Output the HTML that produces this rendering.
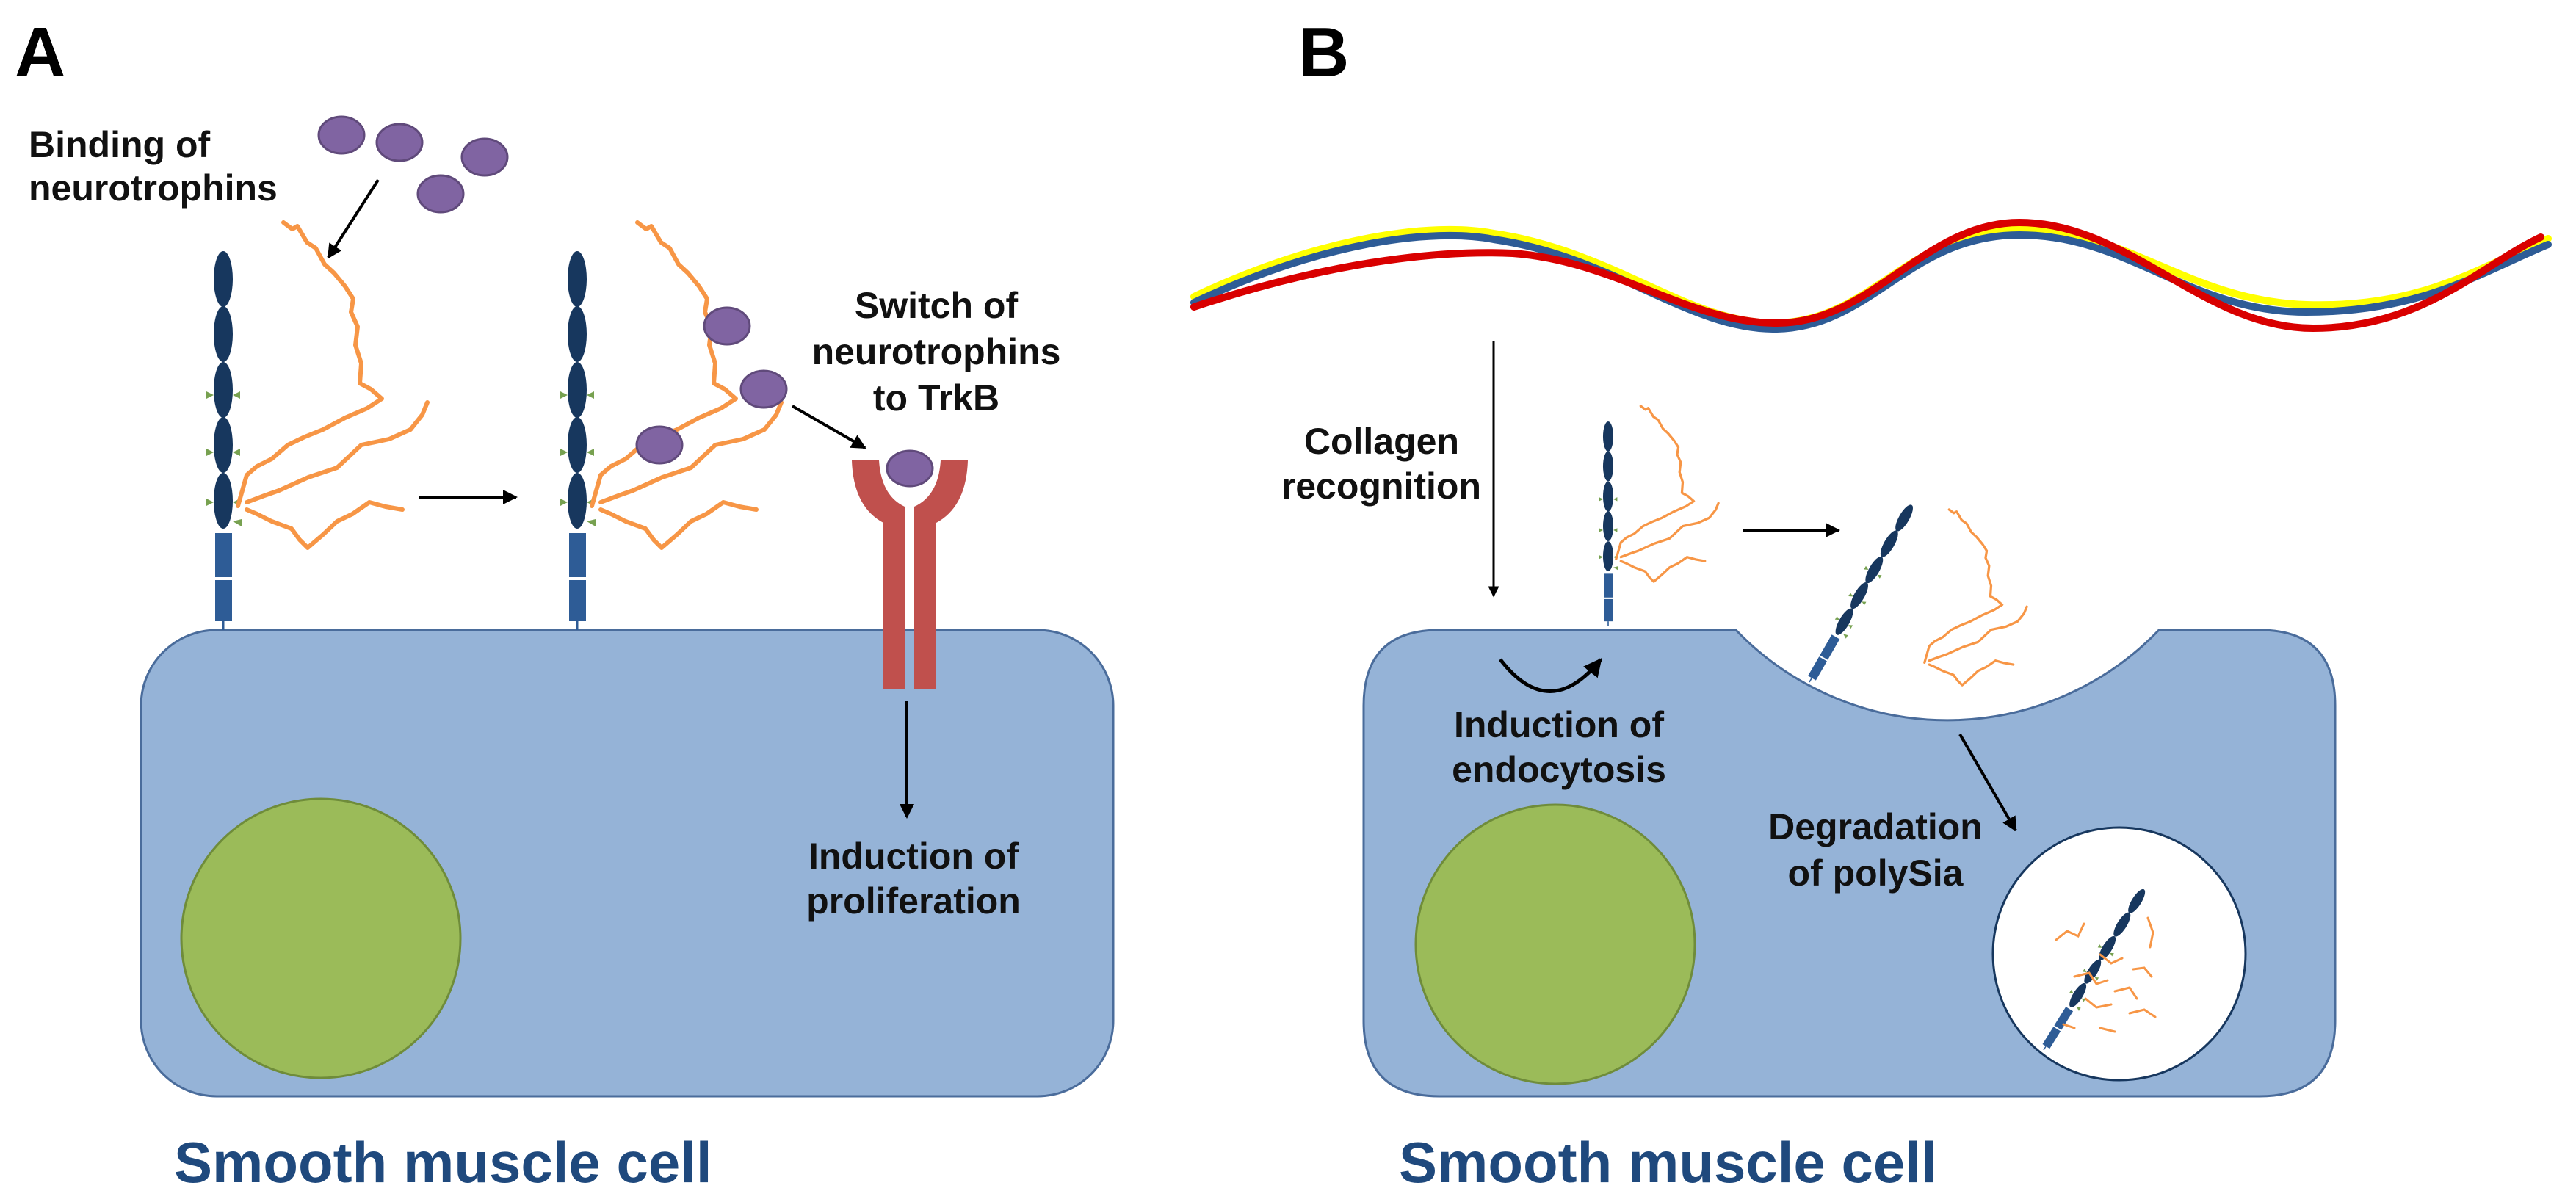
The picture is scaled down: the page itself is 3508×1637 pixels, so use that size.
<!DOCTYPE html>
<html><head><meta charset="utf-8"><style>html,body{margin:0;padding:0;background:#fff}svg{display:block}text{font-family:"Liberation Sans",Arial,sans-serif;font-weight:bold}</style></head>
<body>
<svg width="3508" height="1637" viewBox="0 0 3508 1637" xmlns="http://www.w3.org/2000/svg">
<defs>
<marker id="ah" viewBox="0 0 10 10" refX="9" refY="5" markerWidth="5" markerHeight="5" orient="auto"><path d="M0,0 L10,5 L0,10 z" fill="#000"/></marker>
<g id="chain" fill="none" stroke="#f79646" stroke-width="6" stroke-linejoin="round" stroke-linecap="round">
<polyline points="386,303 398,312 405,308 418,330 430,338 442,360 455,372 470,390 481,407 478,425 487,445 484,470 492,495 490,522 505,530 520,543 500,556 470,569 440,585 415,595 392,606 370,625 350,635 336,647 330,668 324,689"/>
<polyline points="582,548 575,565 559,585 530,598 492,606 475,622 459,637 420,650 380,668 360,675 336,684"/>
<polyline points="548,694 525,690 503,684 480,700 459,710 440,728 419,746 408,735 397,720 370,710 350,700 336,694"/>
</g>
<g id="stalk">
<ellipse cx="0" cy="38" rx="13" ry="38" fill="#17375e"/>
<ellipse cx="0" cy="113" rx="13" ry="38" fill="#17375e"/>
<ellipse cx="0" cy="189" rx="13" ry="38" fill="#17375e"/>
<ellipse cx="0" cy="264" rx="13" ry="38" fill="#17375e"/>
<ellipse cx="0" cy="340" rx="13" ry="38" fill="#17375e"/>
<rect x="-11" y="384" width="23" height="60" fill="#2e5c96"/>
<rect x="-11" y="448" width="23" height="56" fill="#2e5c96"/>
<line x1="0" y1="504" x2="0" y2="516" stroke="#2e5c96" stroke-width="3"/>
<path d="M-13,196 l-10,-5 v10z M13,196 l10,-5 v10z M-13,274 l-10,-5 v10z M13,274 l10,-5 v10z M-13,342 l-10,-5 v10z M13,342 l10,-5 v10z M13,368 l12,-3 v10z" fill="#77a150"/>
</g>
</defs>

<!-- Panel A -->
<text x="20" y="104" font-size="96" fill="#000">A</text>
<text x="39" y="214" font-size="50" fill="#111">Binding of</text>
<text x="39" y="273" font-size="50" fill="#111">neurotrophins</text>

<rect x="192" y="858" width="1324" height="635" rx="103" fill="#95b3d7" stroke="#4a6c9b" stroke-width="3"/>
<circle cx="437" cy="1278" r="190" fill="#9bbb59" stroke="#6f8c3a" stroke-width="3"/>

<g fill="#8064a2" stroke="#604a7b" stroke-width="3">
<ellipse cx="465" cy="184" rx="31" ry="25"/>
<ellipse cx="544" cy="194" rx="31" ry="25"/>
<ellipse cx="660" cy="214" rx="31" ry="25"/>
<ellipse cx="600" cy="264" rx="31" ry="25"/>
</g>
<line x1="515" y1="245" x2="447" y2="351" stroke="#000" stroke-width="4" marker-end="url(#ah)"/>

<use href="#stalk" x="304" y="342"/>
<use href="#chain"/>
<line x1="570" y1="677" x2="703" y2="677" stroke="#000" stroke-width="4" marker-end="url(#ah)"/>
<use href="#stalk" x="786" y="342"/>
<use href="#chain" x="482"/>
<g fill="#8064a2" stroke="#604a7b" stroke-width="3">
<ellipse cx="990" cy="444" rx="31" ry="25"/>
<ellipse cx="1040" cy="530" rx="31" ry="25"/>
<ellipse cx="898" cy="606" rx="31" ry="25"/>
</g>
<line x1="1079" y1="553" x2="1178" y2="610" stroke="#000" stroke-width="4" marker-end="url(#ah)"/>

<text x="1275" y="433" font-size="50" fill="#111" text-anchor="middle">Switch of</text>
<text x="1275" y="496" font-size="50" fill="#111" text-anchor="middle">neurotrophins</text>
<text x="1275" y="559" font-size="50" fill="#111" text-anchor="middle">to TrkB</text>

<path d="M1160,627 L1197,627 Q1200,675 1232,690 L1232,938 L1203,938 L1203,712 Q1162,690 1160,627 Z" fill="#c0504d"/>
<path d="M1318,627 L1281,627 Q1278,675 1245,690 L1245,938 L1275,938 L1275,712 Q1316,690 1318,627 Z" fill="#c0504d"/>
<ellipse cx="1239" cy="638" rx="31" ry="24" fill="#8064a2" stroke="#604a7b" stroke-width="3"/>
<line x1="1235" y1="955" x2="1235" y2="1113" stroke="#000" stroke-width="4" marker-end="url(#ah)"/>
<text x="1244" y="1183" font-size="50" fill="#111" text-anchor="middle">Induction of</text>
<text x="1244" y="1244" font-size="50" fill="#111" text-anchor="middle">proliferation</text>

<text x="237" y="1610" font-size="78" fill="#1f497d">Smooth muscle cell</text>

<!-- Panel B -->
<text x="1768" y="104" font-size="96" fill="#000">B</text>

<g fill="none" stroke-width="10" stroke-linecap="round">
<path d="M1626,404 C1800,322 1950,302 2034,318 C2200,342 2300,442 2420,440 C2550,437 2600,312 2750,312 C2900,312 2980,410 3141,415 C3300,420 3380,362 3470,325" stroke="#ffff00"/>
<path d="M1626,412 C1800,330 1950,310 2034,326 C2200,350 2300,450 2420,448 C2550,445 2600,320 2750,320 C2900,320 2980,425 3141,425 C3300,425 3380,370 3470,333" stroke="#2e5c96"/>
<path d="M1626,418 C1800,360 1950,340 2060,345 C2200,355 2300,440 2420,440 C2550,440 2620,303 2750,303 C2900,303 3000,447 3150,447 C3300,447 3380,360 3460,323" stroke="#d90000"/>
</g>

<line x1="2034" y1="465" x2="2034" y2="812" stroke="#000" stroke-width="3" marker-end="url(#ah)"/>
<text x="1987" y="618" font-size="50" fill="#111" text-anchor="end">Collagen</text>
<text x="2017" y="679" font-size="50" fill="#111" text-anchor="end">recognition</text>

<path d="M1960,858 L2364,858 A399,399 0 0 0 2940,858 L3077,858 Q3180,858 3180,961 L3180,1390 Q3180,1493 3077,1493 L1960,1493 Q1857,1493 1857,1390 L1857,961 Q1857,858 1960,858 Z" fill="#95b3d7" stroke="#4a6c9b" stroke-width="3"/>
<circle cx="2118" cy="1286" r="190" fill="#9bbb59" stroke="#6f8c3a" stroke-width="3"/>

<g transform="translate(2190,574) scale(0.54) translate(-304,-342)">
<use href="#stalk" x="304" y="342"/>
<use href="#chain"/>
</g>
<line x1="2373" y1="722" x2="2504" y2="722" stroke="#000" stroke-width="4" marker-end="url(#ah)"/>

<g transform="translate(2464,929) rotate(30) scale(0.54) translate(0,-516)">
<use href="#stalk" x="0" y="0"/>
</g>
<g transform="translate(2610,715) scale(0.54) translate(-304,-342)">
<use href="#chain"/>
</g>

<path d="M2043,898 Q2110,985 2180,898" fill="none" stroke="#000" stroke-width="5" marker-end="url(#ah)"/>
<text x="2123" y="1004" font-size="50" fill="#111" text-anchor="middle">Induction of</text>
<text x="2123" y="1065" font-size="50" fill="#111" text-anchor="middle">endocytosis</text>

<line x1="2669" y1="1000" x2="2745" y2="1131" stroke="#000" stroke-width="4" marker-end="url(#ah)"/>
<text x="2554" y="1143" font-size="50" fill="#111" text-anchor="middle">Degradation</text>
<text x="2554" y="1206" font-size="50" fill="#111" text-anchor="middle">of polySia</text>

<circle cx="2886" cy="1299" r="172" fill="#fff" stroke="#17375e" stroke-width="3"/>
<g transform="translate(2783,1430) rotate(32) scale(0.5) translate(0,-516)">
<use href="#stalk" x="0" y="0"/>
</g>
<g fill="none" stroke="#f79646" stroke-width="3" stroke-linecap="round">
<polyline points="2800,1280 2815,1268 2830,1275 2838,1258"/>
<polyline points="2925,1250 2932,1270 2928,1290"/>
<polyline points="2825,1330 2845,1325 2855,1340 2870,1335"/>
<polyline points="2880,1350 2900,1345 2910,1360"/>
<polyline points="2900,1380 2920,1375 2935,1385"/>
<polyline points="2840,1360 2855,1372 2875,1368"/>
<polyline points="2860,1300 2875,1312 2890,1305"/>
<polyline points="2810,1395 2825,1400"/>
<polyline points="2860,1400 2880,1405"/>
<polyline points="2905,1320 2920,1318 2930,1330"/>
</g>

<text x="1905" y="1610" font-size="78" fill="#1f497d">Smooth muscle cell</text>
</svg>
</body></html>
